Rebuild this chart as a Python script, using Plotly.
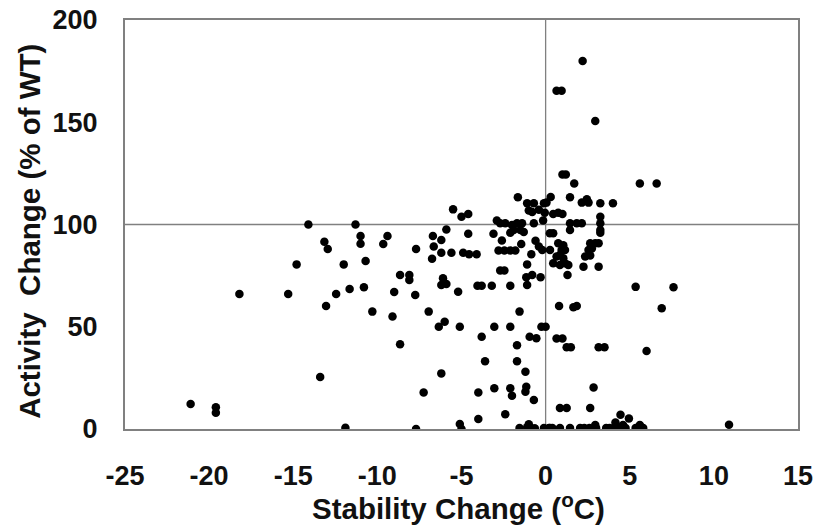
import plotly.graph_objects as go

# Stability change (°C) and activity change (% of WT) per variant
stability = [
    -21.1, -19.6, -19.6, -18.2, -15.3, -14.8, -14.1, -13.4, -13.15, -12.95,
    -13.05, -12.45, -12.0, -11.9, -11.65, -11.3, -11.0, -11.0, -10.8, -10.7,
    -10.3, -9.4, -9.65, -9.1, -9.0, -8.65, -8.65, -8.1, -8.1, -7.7,
    -7.75, -7.7, -7.25, -6.95, -6.75, -6.7, -6.65, -6.2, -6.2, -6.2,
    -6.35, -6.0, -6.1, -6.2, -5.9, -5.9, -5.6, -5.5, -5.2, -5.1,
    -5.1, -5.0, -5.0, -4.6, -4.9, -4.55, -4.1, -4.6, -4.05, -3.8,
    -3.8, -3.6, -4.0, -4.0, -3.2, -3.1, -3.05, -3.05, -2.9, -2.7,
    -2.4, -2.0, -1.7, -1.4, -0.7, -2.6, -2.8, -2.45, -2.1, -1.8,
    -2.7, -2.45, -2.4, -2.1, -2.1, -2.1, -2.0, -2.1, -1.9, -1.65,
    -1.55, -1.7, -1.7, -1.45, -1.5, -1.3, -1.2, -1.15, -1.2, -1.15,
    -1.1, -1.1, -1.1, -1.0, -1.0, -0.8, -0.8, -0.85, -0.7, -0.7,
    -0.6, -0.4, -0.2, -0.4, -0.3, -0.95, -0.55, -0.25, 0.0, -0.1,
    0.05, -0.05, -0.15, 0.25, 0.45, 0.3, 0.45, 0.75, 1.0, 0.75,
    1.05, 0.95, 1.15, 0.85, 1.05, 0.65, 0.26, 0.45, 0.85, 1.35,
    1.15, 1.3, 0.8, 1.65, 1.85, 0.65, 1.0, 1.25, 1.5, 0.85,
    1.25, 1.0, 1.2, 1.7, 0.65, 0.95, 2.2, 2.95, 1.45, 2.15,
    2.45, 2.55, 3.25, 4.0, 1.45, 1.85, 2.15, 3.25, 3.25, 1.45,
    3.25, 3.25, 2.65, 2.95, 3.15, 2.55, 2.75, 2.35, 2.65, 2.25,
    3.15, 3.15, 3.5, 2.85, 2.65, 4.45, 4.95, 4.15, 5.35, 7.6,
    6.9, 6.0, 5.6, 6.6, 10.9,
    -1.55, -1.1, -0.9, -0.65, -0.1, 0.2, 0.4, 0.85, 1.45, 2.05,
    2.3, 2.6, 3.0, 2.95, 3.6, 3.8, 4.05, 4.3, 4.6, 4.75,
    5.35, 5.6, 5.8, -0.9, -0.65, 0.26,
]
activity = [
    12.2, 10.6, 8.0, 66, 66, 80.5, 100, 25.4, 91.6, 88,
    60.1, 66, 80.5, 0.6, 68.5, 100, 94.4, 90.6, 69.3, 82.2,
    57.4, 94.4, 90.5, 55, 67, 41.4, 75.3, 75.3, 72.9, 88,
    65.5, 0, 17.9, 57.4, 83.3, 94.4, 89.2, 92.4, 86.2, 27.2,
    50, 52.5, 73.7, 70.4, 70.9, 97.5, 86.2, 107.4, 67.1, 50,
    2.4, 0, 103.8, 105.1, 86.2, 85.4, 85.4, 95.5, 70, 70,
    45.1, 33.1, 17.9, 4.9, 70, 95.5, 50, 19.9, 101.9, 100.6,
    100.6, 99.8, 100.6, 100.6, 100.6, 92.2, 87.3, 87.3, 87.3, 87.3,
    77.5, 77.5, 7.2, 70, 50, 19.9, 16.3, 96, 97.3, 113.3,
    57.4, 41, 33.1, 90.5, 97.3, 96.3, 28, 20.7, 18.2, 74.2,
    70.4, 80.5, 110.4, 106.9, 2.3, 106.1, 75.3, 85.4, 14.2, 110.4,
    92.1, 89.2, 87.5, 107.2, 74.2, 45.1, 44.4, 50, 50, 110.4,
    110.7, 105.8, 102, 95.7, 95.7, 113.5, 105.1, 105.8, 105.1, 90.8,
    89.9, 87.5, 87.5, 85.1, 83.5, 84.3, 87.5, 81, 80.2, 80.2,
    81, 75.3, 60.1, 59.5, 60.1, 44.3, 44.3, 40, 40, 10.3,
    10.3, 124.5, 124.5, 120.1, 165.4, 165.4, 180, 150.6, 113.3, 110.7,
    112.4, 110.7, 110.4, 110.4, 100.6, 100.6, 100.6, 100.6, 103.8, 97.3,
    97.3, 96, 90.8, 90.8, 90.8, 87.5, 88.3, 84.4, 84.8, 79.4,
    79.4, 40, 40, 20.3, 10.3, 7, 5.1, 3.2, 69.5, 69.3,
    59, 38.1, 120, 120, 2.1,
    0.5, 0.8, 0.5, 0.3, 0.5, 0.5, 0.5, 0.5, 0.5, 0.5,
    0.5, 0.5, 0.5, 2, 0.5, 0.5, 0.5, 0.5, 2, 0.5,
    0.5, 2, 0.5, 0.3, 0.3, 0.5,
]

x_ticks = [-25, -20, -15, -10, -5, 0, 5, 10, 15]
y_ticks = [0, 50, 100, 150, 200]
x_title = "<b>Stability Change (<sup>o</sup>C)</b>"
y_title = "<b>Activity  Change (% of WT)</b>"

FONT = "Liberation Sans, Arial, sans-serif"
TXT = "#111111"

fig = go.Figure()
fig.add_trace(go.Scatter(
    x=stability, y=activity, mode="markers",
    marker=dict(color="black", size=8.5, line=dict(width=0)),
    showlegend=False,
))

line_color = "#808080"
fig.add_shape(type="line", xref="x", yref="y", x0=0, x1=0, y0=0, y1=200,
              line=dict(color=line_color, width=1.3), layer="below")
fig.add_shape(type="line", xref="x", yref="y", x0=-25, x1=15, y0=100, y1=100,
              line=dict(color=line_color, width=1.3), layer="below")

# axis titles as annotations for precise placement
fig.add_annotation(text=x_title, xref="paper", yref="paper", x=0.496, y=0,
                   xanchor="center", yanchor="middle", yshift=-77,
                   showarrow=False, font=dict(family=FONT, size=29.5, color=TXT))
fig.add_annotation(text=y_title, xref="paper", yref="paper", x=0, y=0.482,
                   xanchor="center", yanchor="middle", xshift=-95, textangle=-90,
                   showarrow=False, font=dict(family=FONT, size=29.5, color=TXT))

fig.update_layout(
    width=816, height=527,
    margin=dict(l=125, r=18, t=20, b=98),
    paper_bgcolor="white", plot_bgcolor="white",
    font=dict(family=FONT, size=20, color=TXT),
    xaxis=dict(
        range=[-25, 15], tickvals=x_ticks,
        ticktext=[f"<b>{v}</b>" for v in x_ticks],
        showgrid=False, zeroline=False, showline=True, mirror=True,
        linecolor=line_color, linewidth=2,
        ticks="outside", ticklen=22, tickcolor="rgba(0,0,0,0)",
        automargin=False, ticklabeloverflow="allow",
        tickfont=dict(family=FONT, size=27, color=TXT),
    ),
    yaxis=dict(
        range=[0, 200], tickvals=y_ticks,
        ticktext=[f"<b>{v}</b>" for v in y_ticks],
        showgrid=False, zeroline=False, showline=True, mirror=True,
        linecolor=line_color, linewidth=2,
        ticks="outside", ticklen=20, tickcolor="rgba(0,0,0,0)",
        automargin=False, ticklabeloverflow="allow",
        tickfont=dict(family=FONT, size=27, color=TXT),
    ),
)

fig.write_html(
    "out.html",
    config={"displayModeBar": False},
    post_script="document.body.style.margin='0';document.body.style.overflow='hidden';",
)
